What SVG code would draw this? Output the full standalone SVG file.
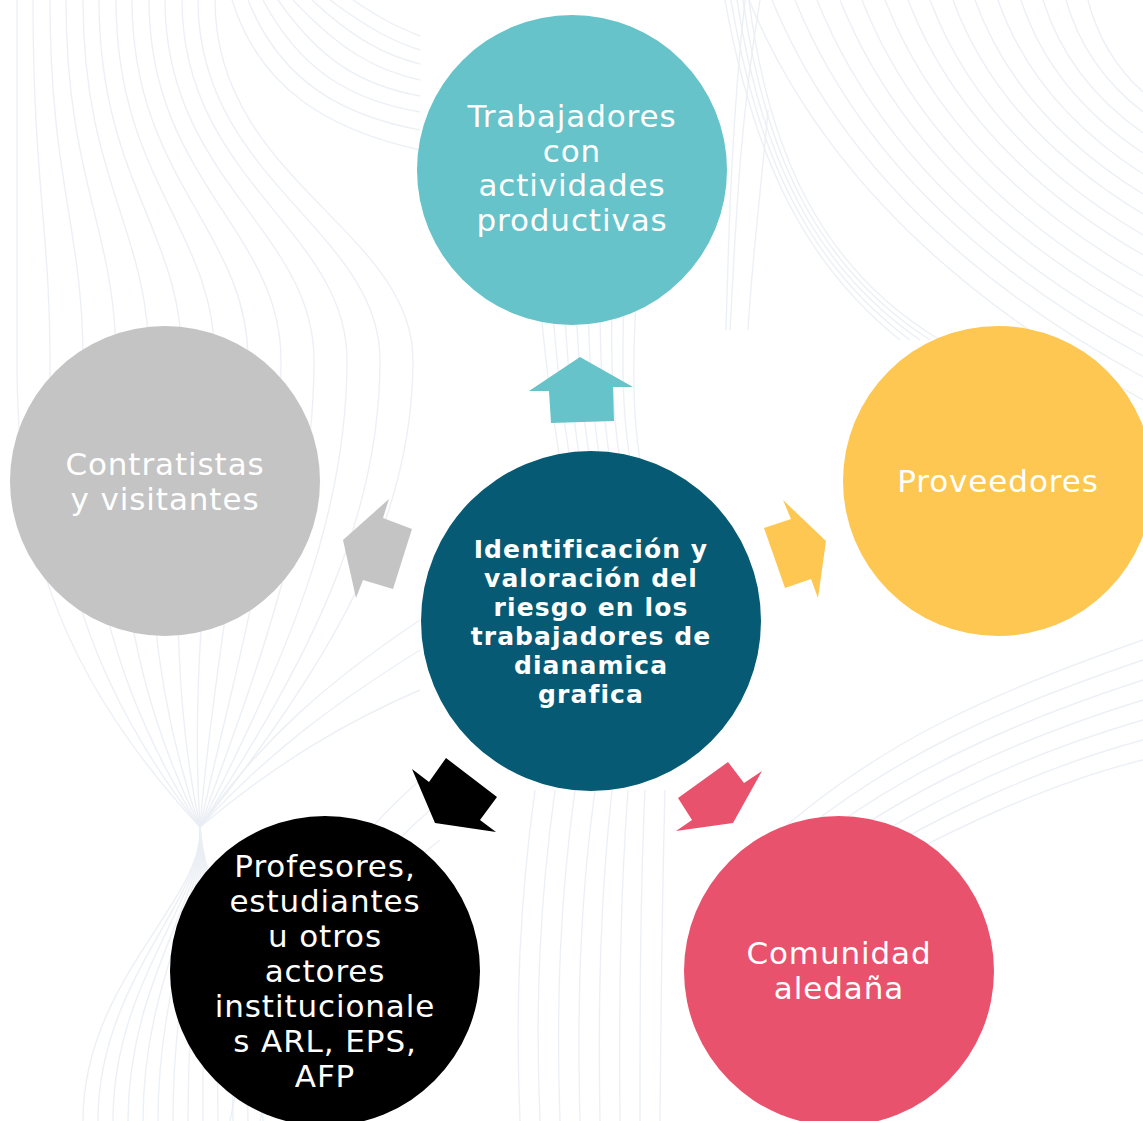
<svg xmlns="http://www.w3.org/2000/svg" width="1143" height="1121" viewBox="0 0 1143 1121">
<style>
.bg{fill:none;stroke:#EAEEF4;stroke-width:1.4;opacity:0.9}
.lbl{font-family:"DejaVu Sans","Verdana",sans-serif;font-size:31px;letter-spacing:0.9px;fill:#FFFFFF;text-anchor:middle}
.ctr{font-family:"DejaVu Sans","Verdana",sans-serif;font-size:25px;letter-spacing:1.1px;font-weight:bold;fill:#FFFFFF;text-anchor:middle}
</style>
<rect width="1143" height="1121" fill="#FFFFFF"/>
<g id="background">
<path class="bg" d="M17,0 C17,180 17,230 17,360 C17,520 45,660 200,827 C205,900 83,980 83,1121"/>
<path class="bg" d="M33,0 C33,180 50,230 50,360 C50,520 69,660 200,827 C205,900 98,980 98,1121"/>
<path class="bg" d="M50,0 C50,180 83,230 83,360 C83,520 93,660 200,827 C205,900 113,980 113,1121"/>
<path class="bg" d="M66,0 C66,180 116,230 116,360 C116,520 117,660 200,827 C205,900 128,980 128,1121"/>
<path class="bg" d="M83,0 C83,180 149,230 149,360 C149,520 141,660 200,827 C205,900 143,980 143,1121"/>
<path class="bg" d="M99,0 C99,180 182,230 182,360 C182,520 165,660 200,827 C205,900 158,980 158,1121"/>
<path class="bg" d="M116,0 C116,180 215,230 215,360 C215,520 189,660 200,827 C205,900 173,980 173,1121"/>
<path class="bg" d="M132,0 C132,180 248,230 248,360 C248,520 213,660 200,827 C205,900 188,980 188,1121"/>
<path class="bg" d="M149,0 C149,180 281,230 281,360 C281,520 237,660 200,827 C205,900 203,980 203,1121"/>
<path class="bg" d="M165,0 C165,180 314,230 314,360 C314,520 261,660 200,827 C205,900 218,980 218,1121"/>
<path class="bg" d="M182,0 C182,180 347,230 347,360 C347,520 285,660 200,827 C205,900 233,980 233,1121"/>
<path class="bg" d="M198,0 C198,180 380,230 380,360 C380,520 309,660 200,827 C205,900 248,980 248,1121"/>
<path class="bg" d="M215,0 C215,180 413,230 413,360 C413,520 333,660 200,827 C205,900 263,980 263,1121"/>
<path class="bg" d="M232,0 C260,90 330,130 420,150"/>
<path class="bg" d="M248,0 C280,80 340,115 420,130"/>
<path class="bg" d="M263,0 C300,70 350,100 420,112"/>
<path class="bg" d="M278,0 C320,60 360,85 420,96"/>
<path class="bg" d="M293,0 C340,50 375,70 420,80"/>
<path class="bg" d="M312,0 C355,40 385,55 420,64"/>
<path class="bg" d="M330,0 C370,30 395,42 420,50"/>
<path class="bg" d="M353,0 C385,22 405,30 420,36"/>
<path class="bg" d="M200,827 C260,740 330,680 420,620"/>
<path class="bg" d="M200,827 C270,750 340,700 420,650"/>
<path class="bg" d="M200,827 C280,760 350,720 420,690"/>
<path class="bg" d="M230,1121 C260,960 330,860 420,780"/>
<path class="bg" d="M260,1121 C290,970 350,880 430,810"/>
<path class="bg" d="M300,1121 C320,990 360,900 440,840"/>
<path class="bg" d="M772,0 Q865,226 1143,377"/>
<path class="bg" d="M795,0 Q882,214 1143,356"/>
<path class="bg" d="M817,0 Q898,202 1143,337"/>
<path class="bg" d="M840,0 Q916,190 1143,316"/>
<path class="bg" d="M862,0 Q932,178 1143,297"/>
<path class="bg" d="M885,0 Q950,166 1143,276"/>
<path class="bg" d="M908,0 Q967,153 1143,255"/>
<path class="bg" d="M930,0 Q983,141 1143,235"/>
<path class="bg" d="M953,0 Q1000,128 1143,214"/>
<path class="bg" d="M975,0 Q1017,116 1143,194"/>
<path class="bg" d="M998,0 Q1034,104 1143,174"/>
<path class="bg" d="M1021,0 Q1051,92 1143,153"/>
<path class="bg" d="M1043,0 Q1068,80 1143,133"/>
<path class="bg" d="M1066,0 Q1085,67 1143,112"/>
<path class="bg" d="M1088,0 Q1102,55 1143,92"/>
<path class="bg" d="M749,0 Q848,240 1143,400"/>
<path class="bg" d="M725,0 C752,150 800,260 900,340"/>
<path class="bg" d="M731,0 C756,150 805,262 910,340"/>
<path class="bg" d="M737,0 C760,150 810,264 920,340"/>
<path class="bg" d="M743,0 C764,150 815,266 930,340"/>
<path class="bg" d="M749,0 C768,150 820,268 940,340"/>
<path class="bg" d="M760,0 C740,120 736,220 730,330"/>
<path class="bg" d="M745,0 C732,120 729,220 726,330"/>
<path class="bg" d="M768,110 C760,200 752,260 748,330"/>
<path class="bg" d="M770,840 C880,740 1000,690 1143,640"/>
<path class="bg" d="M780,850 C890,755 1010,705 1143,660"/>
<path class="bg" d="M790,860 C900,770 1020,720 1143,680"/>
<path class="bg" d="M800,870 C910,785 1030,735 1143,700"/>
<path class="bg" d="M810,880 C920,800 1040,750 1143,720"/>
<path class="bg" d="M820,890 C930,815 1050,765 1143,740"/>
<path class="bg" d="M830,900 C940,830 1060,780 1143,760"/>
<path class="bg" d="M540,300 C545,360 552,410 560,460"/>
<path class="bg" d="M552,300 C556,360 562,410 570,460"/>
<path class="bg" d="M564,300 C567,360 572,410 580,460"/>
<path class="bg" d="M576,300 C578,360 582,410 590,460"/>
<path class="bg" d="M588,300 C589,360 592,410 600,460"/>
<path class="bg" d="M600,300 C600,360 602,410 610,460"/>
<path class="bg" d="M612,300 C611,360 612,410 620,460"/>
<path class="bg" d="M624,300 C622,360 622,410 630,460"/>
<path class="bg" d="M636,300 C633,360 632,410 640,460"/>
<path class="bg" d="M520,1121 C515,1000 520,900 535,790"/>
<path class="bg" d="M540,1121 C535,1000 540,900 555,790"/>
<path class="bg" d="M560,1121 C556,1000 560,900 575,790"/>
<path class="bg" d="M580,1121 C577,1000 580,900 595,790"/>
<path class="bg" d="M600,1121 C598,1000 600,900 612,790"/>
<path class="bg" d="M620,1121 C619,1000 620,900 628,790"/>
<path class="bg" d="M640,1121 C640,1000 640,900 645,790"/>
<path class="bg" d="M660,1121 C661,1000 662,900 665,790"/>
</g>
<g id="connectors">
<polygon fill="#66C3C9" points="580,357 633,387 613,387 614,421 551,423 549,391 529,391"/>
<polygon fill="#C4C4C4" points="343,540 389,499 383,518 412,529 393,589 363,580 356,598"/>
<polygon fill="#FDC752" points="783,500 826,541 818,598 811,579 785,588 764,528 791,519"/>
<polygon fill="#000000" points="412,769 429,782 446,758 497,797 480,820 496,832 435,823"/>
<polygon fill="#E9526C" points="728,762 744,783 762,771 733,823 676,831 692,820 678,798"/>
</g>
<g id="node-trabajadores">
<circle cx="572" cy="170" r="155" fill="#66C3C9"/>
<text class="lbl" x="572" y="127">Trabajadores</text>
<text class="lbl" x="572" y="161.5">con</text>
<text class="lbl" x="572" y="196">actividades</text>
<text class="lbl" x="572" y="230.5">productivas</text>
</g>
<g id="node-contratistas">
<circle cx="165" cy="481" r="155" fill="#C4C4C4"/>
<text class="lbl" x="165" y="475">Contratistas</text>
<text class="lbl" x="165" y="509.5">y visitantes</text>
</g>
<g id="node-proveedores">
<circle cx="998" cy="481" r="155" fill="#FDC752"/>
<text class="lbl" x="998" y="492">Proveedores</text>
</g>
<g id="node-profesores">
<circle cx="325" cy="971" r="155" fill="#000000"/>
<text class="lbl" x="325" y="877">Profesores,</text>
<text class="lbl" x="325" y="912">estudiantes</text>
<text class="lbl" x="325" y="947">u otros</text>
<text class="lbl" x="325" y="982">actores</text>
<text class="lbl" x="325" y="1017">institucionale</text>
<text class="lbl" x="325" y="1052">s ARL, EPS,</text>
<text class="lbl" x="325" y="1087">AFP</text>
</g>
<g id="node-comunidad">
<circle cx="839" cy="971" r="155" fill="#E9526C"/>
<text class="lbl" x="839" y="964">Comunidad</text>
<text class="lbl" x="839" y="999">aledaña</text>
</g>
<g id="node-centro">
<circle cx="591" cy="621" r="170" fill="#065A73"/>
<text class="ctr" x="591" y="558">Identificación y</text>
<text class="ctr" x="591" y="587">valoración del</text>
<text class="ctr" x="591" y="616">riesgo en los</text>
<text class="ctr" x="591" y="645">trabajadores de</text>
<text class="ctr" x="591" y="674">dianamica</text>
<text class="ctr" x="591" y="703">grafica</text>
</g>
</svg>
